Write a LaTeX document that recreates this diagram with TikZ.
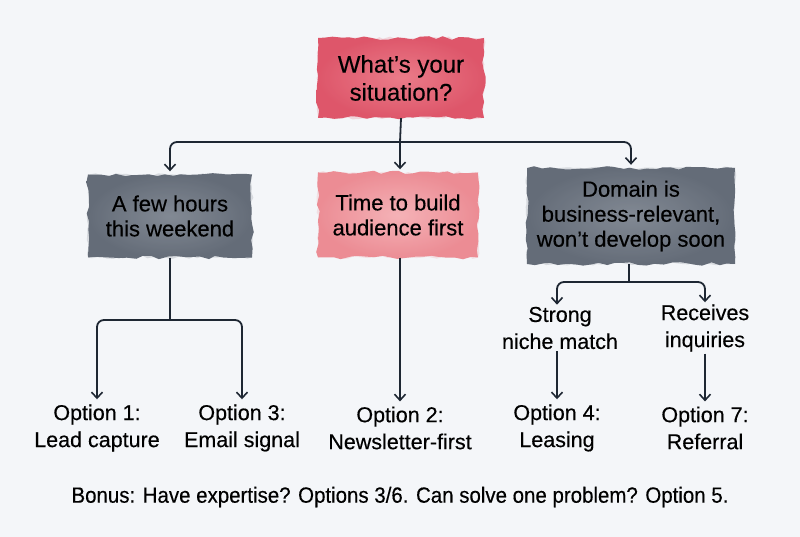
\documentclass[tikz,border=0pt]{standalone}
\usepackage{fontspec}
\setmainfont[FakeBold=0.35]{Liberation Sans}
\newfontfamily\bonusfont[FakeStretch=0.93,FakeBold=0.35]{Liberation Sans}
\usetikzlibrary{arrows.meta,decorations.pathmorphing}
\definecolor{bg}{HTML}{F4F6F9}
\definecolor{ink}{HTML}{1E2733}
\definecolor{redin}{HTML}{EE8591}
\definecolor{redout}{HTML}{DE566A}
\definecolor{pinkin}{HTML}{F7BCC0}
\definecolor{pinkout}{HTML}{EC8C94}
\definecolor{grayin}{HTML}{8A919B}
\definecolor{grayout}{HTML}{646C78}
\tikzset{
  wc/.style n args={2}{rectangle, inner sep=0pt, align=center, text=black,
    preaction={shade, inner color=#1, outer color=#2, decorate,
      decoration={random steps, segment length=8pt, amplitude=1.8pt}},
    preaction={fill=#2, fill opacity=0.2, decorate,
      decoration={random steps, segment length=5pt, amplitude=1.5pt}}},
  boxtxt/.style={font=\fontsize{22}{25}\selectfont},
  opt/.style={align=center, inner sep=2pt, font=\fontsize{21.5}{27}\selectfont, text=black},
  conn/.style={draw=ink, line width=1.8pt, rounded corners=7pt},
  arr/.style={conn, -{Straight Barb[length=6pt,width=11pt,line width=1.6pt]}, shorten >=3pt}
}
\begin{document}
\begin{tikzpicture}[x=1pt,y=-1pt]
\pgfmathsetseed{7}
\fill[bg] (0,0) rectangle (800,537);
\useasboundingbox (0,0) rectangle (800,537);

\node[wc={redin}{redout}, minimum width=166, minimum height=80,
      font=\fontsize{24}{28}\selectfont] (q) at (401,78) {What’s your\\situation?};
\node[wc={grayin}{grayout}, minimum width=164, minimum height=83, boxtxt] (b1) at (170,216) {A few hours\\this weekend};
\node[wc={pinkin}{pinkout}, minimum width=160, minimum height=85, boxtxt] (b2) at (398,215) {Time to build\\audience first};
\node[wc={grayin}{grayout}, minimum width=208, minimum height=96, boxtxt] (b3) at (631,216) {Domain is\\business-relevant,\\won’t develop soon};

\node[opt] (s1) at (560,328) {Strong\\niche match};
\node[opt] (s2) at (705,328) {Receives\\inquiries};

\node[opt] (o1) at (97,428) {Option 1:\\Lead capture};
\node[opt] (o3) at (242,428) {Option 3:\\Email signal};
\node[opt] (o2) at (400,428) {Option 2:\\Newsletter-first};
\node[opt] (o4) at (557,428) {Option 4:\\Leasing};
\node[opt] (o7) at (705,428) {Option 7:\\Referral};

\node[font=\bonusfont\fontsize{22}{24}\selectfont, text=black] (bonus) at (400,497)
  {Bonus: Have expertise? Options 3/6. Can solve one problem? Option 5.};

% connectors
\coordinate (j0) at (400,142);
\draw[conn] (q.south) -- (j0);
\draw[arr] (j0) -| (b1.north);
\draw[arr] (j0) -- (b2.north -| j0);
\draw[arr] (j0) -| (b3.north);

\coordinate (j1) at (170,320);
\draw[conn] (b1.south) -- (j1);
\draw[arr] (j1) -| (o1.north);
\draw[arr] (j1) -| (o3.north);

\draw[arr] (b2.south -| o2) -- (o2.north);

\coordinate (j3) at (629,282);
\draw[conn] (b3.south -| j3) -- (j3);
\draw[arr] (j3) -| ([yshift=-3pt]s1.north -| o4);
\draw[arr] (j3) -| ([yshift=-3pt]s2.north);

\draw[arr] (s1.south -| o4) -- (o4.north);
\draw[arr] (s2.south) -- (o7.north);
\end{tikzpicture}
\end{document}
